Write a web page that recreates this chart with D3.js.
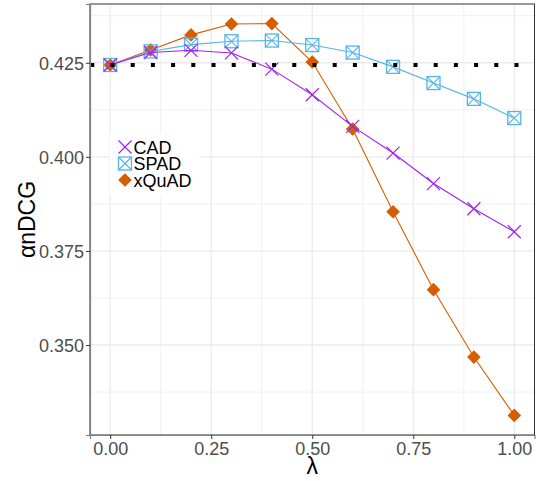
<!DOCTYPE html>
<html>
<head>
<meta charset="utf-8">
<script src="https://cdn.jsdelivr.net/npm/d3@7"></script>
<style>
  body { margin: 0; background: #fff; }
  text { font-family: "Liberation Sans", Arial, sans-serif; }
</style>
</head>
<body>
<div id="chart"></div>
<script>
// chart data
let lambdas = [0, 0.1, 0.2, 0.3, 0.4, 0.5, 0.6, 0.7, 0.8, 0.9, 1.0];
let cad   = [0.4244, 0.4277, 0.4283, 0.4276, 0.4233, 0.4165, 0.4081, 0.4010, 0.3929, 0.3862, 0.3801];
let spad  = [0.4244, 0.4280, 0.4298, 0.4307, 0.4309, 0.4297, 0.4277, 0.4239, 0.4196, 0.4154, 0.4103];
let xquad = [0.4244, 0.4284, 0.4324, 0.4353, 0.4354, 0.4252, 0.4074, 0.3854, 0.3647, 0.3468, 0.3313];
let baseline = 0.4244;
let seriesNames = ["CAD", "SPAD", "xQuAD"];
let xTicks = [0, 0.25, 0.5, 0.75, 1.0];
let yTicks = [0.350, 0.375, 0.400, 0.425];

let svgWidth = 542, svgHeight = 481;
let margin = { top: 4, right: 7.5, bottom: 46, left: 90 };
let width = svgWidth - margin.left - margin.right;
let height = svgHeight - margin.top - margin.bottom;

let svg = d3.select("#chart").append("svg")
  .attr("width", svgWidth)
  .attr("height", svgHeight);

let g = svg.append("g")
  .attr("transform", "translate(" + margin.left + "," + margin.top + ")");

// ggplot-style 5% expansion
let xMin = -0.05, xMax = 1.05;
let allY = cad.concat(spad, xquad);
let yLo = d3.min(allY), yHi = d3.max(allY);
let pad = (yHi - yLo) * 0.05;

let x = d3.scaleLinear().domain([xMin, xMax]).range([0, width]);
let y = d3.scaleLinear().domain([yLo - pad, yHi + pad]).range([height, 0]);

// grid
let xMinor = [0.125, 0.375, 0.625, 0.875];
let yMinor = [0.3375, 0.3625, 0.3875, 0.4125, 0.4375];
g.selectAll(".xminor").data(xMinor).enter().append("line")
  .attr("x1", d => x(d)).attr("x2", d => x(d)).attr("y1", 0).attr("y2", height)
  .attr("stroke", "#ebebeb").attr("stroke-width", 0.7);
g.selectAll(".yminor").data(yMinor).enter().append("line")
  .attr("y1", d => y(d)).attr("y2", d => y(d)).attr("x1", 0).attr("x2", width)
  .attr("stroke", "#ebebeb").attr("stroke-width", 0.7);
g.selectAll(".xmajor").data(xTicks).enter().append("line")
  .attr("x1", d => x(d)).attr("x2", d => x(d)).attr("y1", 0).attr("y2", height)
  .attr("stroke", "#ebebeb").attr("stroke-width", 1.3);
g.selectAll(".ymajor").data(yTicks).enter().append("line")
  .attr("y1", d => y(d)).attr("y2", d => y(d)).attr("x1", 0).attr("x2", width)
  .attr("stroke", "#ebebeb").attr("stroke-width", 1.3);

let colors = { CAD: "#a020f0", SPAD: "#56b4e9", xQuAD: "#d55e00" };
let dataBy = { CAD: cad, SPAD: spad, xQuAD: xquad };

function drawMarker(sel, name, s) {
  let c = colors[name];
  if (name === "CAD") {
    sel.append("path")
      .attr("d", "M" + (-s) + "," + (-s) + "L" + s + "," + s + "M" + (-s) + "," + s + "L" + s + "," + (-s))
      .attr("stroke", c).attr("stroke-width", 1.2).attr("fill", "none");
  } else if (name === "SPAD") {
    sel.append("rect").attr("x", -s).attr("y", -s).attr("width", 2 * s).attr("height", 2 * s)
      .attr("stroke", c).attr("stroke-width", 1.3).attr("fill", "none");
    sel.append("path")
      .attr("d", "M" + (-s) + "," + (-s) + "L" + s + "," + s + "M" + (-s) + "," + s + "L" + s + "," + (-s))
      .attr("stroke", c).attr("stroke-width", 1.1).attr("fill", "none");
  } else {
    let r = s * 1.05;
    sel.append("path")
      .attr("d", "M0," + (-r) + "L" + r + ",0L0," + r + "L" + (-r) + ",0Z")
      .attr("fill", c).attr("stroke", "none");
  }
}

let line = d3.line().x((d, i) => x(lambdas[i])).y(d => y(d));

// draw xQuAD first, CAD on top
["xQuAD", "SPAD", "CAD"].forEach(function(name) {
  let vals = dataBy[name];
  g.append("path").datum(vals)
    .attr("d", line)
    .attr("fill", "none")
    .attr("stroke", colors[name])
    .attr("stroke-width", 1.1);
  vals.forEach(function(v, i) {
    let m = g.append("g").attr("transform", "translate(" + x(lambdas[i]) + "," + y(v) + ")");
    drawMarker(m, name, 6.5);
  });
});

// dotted baseline
g.append("line")
  .attr("x1", 0).attr("x2", width)
  .attr("y1", y(baseline)).attr("y2", y(baseline))
  .attr("stroke", "#000").attr("stroke-width", 4)
  .attr("stroke-dasharray", "4,16.2")
  .attr("stroke-dashoffset", -0.3);

// legend
let leg = g.append("g").attr("transform", "translate(20,130)");
leg.append("rect").attr("x", 0).attr("y", 0).attr("width", 89).attr("height", 62).attr("fill", "#fff");
seriesNames.forEach(function(name, i) {
  let row = leg.append("g").attr("transform", "translate(15," + (13 + i * 16.5) + ")");
  drawMarker(row, name, 6.5);
  row.append("text").attr("x", 8.5).attr("y", 6.5)
    .attr("font-size", 18).attr("fill", "#000").text(name);
});

// panel border
g.append("rect").attr("x", 0).attr("y", 0).attr("width", width).attr("height", height)
  .attr("fill", "none").attr("stroke", "#333").attr("stroke-width", 1);

// axes
let xAxis = g.append("g").attr("transform", "translate(0," + height + ")")
  .call(d3.axisBottom(x).tickValues(xTicks).tickFormat(d3.format(".2f")).tickSize(4).tickPadding(3));
let yAxis = g.append("g")
  .call(d3.axisLeft(y).tickValues(yTicks).tickFormat(d3.format(".3f")).tickSize(4).tickPadding(2));
[xAxis, yAxis].forEach(function(a) {
  a.select(".domain").attr("stroke", "#7f7f7f").attr("stroke-width", 1.2);
  a.selectAll(".tick line").attr("stroke", "#333");
  a.selectAll(".tick text").attr("fill", "#4d4d4d").attr("font-size", 18)
    .attr("font-family", "Liberation Sans, Arial, sans-serif");
});
yAxis.selectAll(".tick text").attr("dy", "0.36em");

// axis titles
svg.append("text")
  .attr("x", margin.left + x(0.5)).attr("y", 474)
  .attr("text-anchor", "middle").attr("font-size", 23).attr("fill", "#000")
  .text("λ");
svg.append("text")
  .attr("transform", "translate(35," + (margin.top + height / 2) + ") rotate(-90)")
  .attr("text-anchor", "middle").attr("font-size", 23).attr("fill", "#000")
  .text("αnDCG");
</script>
</body>
</html>
